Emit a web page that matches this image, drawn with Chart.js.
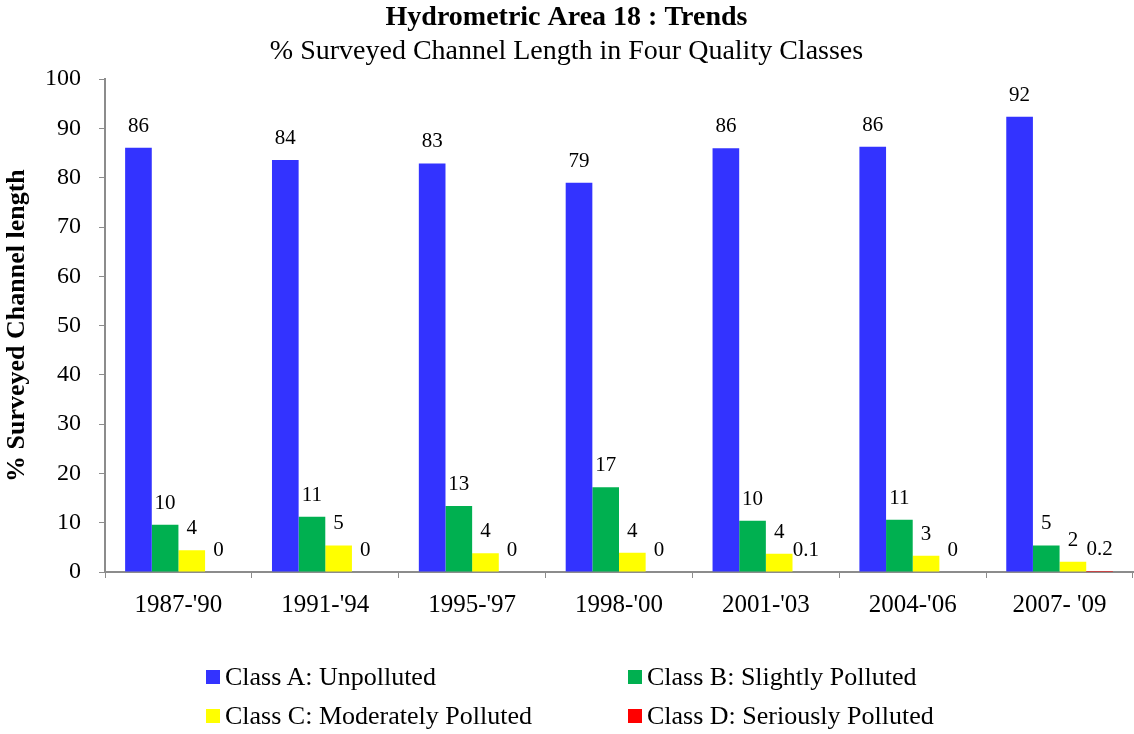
<!DOCTYPE html>
<html>
<head>
<meta charset="utf-8">
<script src="https://cdn.jsdelivr.net/npm/chart.js@4.4.0/dist/chart.umd.min.js"></script>
<style>
  html, body { margin: 0; padding: 0; background: #fff; }
  #wrap { position: relative; width: 1134px; height: 734px; }
  #legend { position: absolute; left: 0; top: 0; width: 1134px; height: 734px; pointer-events: none;
            font-family: "Liberation Serif", "Times New Roman", serif; font-size: 26px; color: #000; }
  .li { position: absolute; white-space: nowrap; line-height: 30px; height: 30px; }
  .sw { position: absolute; left: 0; top: 8px; width: 14px; height: 14px; }
  .tx { position: absolute; left: 19px; top: 0; }
</style>
</head>
<body>
<div id="wrap">
  <canvas id="c" width="1134" height="734"></canvas>
  <div id="legend"></div>
</div>
<script>
const categories = ["1987-'90", "1991-'94", "1995-'97", "1998-'00", "2001-'03", "2004-'06", "2007- '09"];
const classA = [86.1, 83.6, 82.9, 79.0, 86.0, 86.3, 92.4];
const classB = [9.6, 11.2, 13.4, 17.2, 10.4, 10.6, 5.4];
const classC = [4.4, 5.4, 3.8, 3.9, 3.7, 3.3, 2.1];
const classD = [0, 0, 0, 0, 0.1, 0, 0.2];
const seriesNames = ["Class A: Unpolluted", "Class B: Slightly Polluted", "Class C: Moderately Polluted", "Class D: Seriously Polluted"];
const seriesColors = ["#3333FF", "#00B050", "#FFFF00", "#FF0000"];
const yTicks = [0, 10, 20, 30, 40, 50, 60, 70, 80, 90, 100];

const FONT = "'Liberation Serif', 'Times New Roman', serif";
const AXIS = "#8c8c8c";

function fmt(v) { return (v > 0 && v < 1) ? v.toFixed(1) : String(Math.round(v)); }

const labelPlugin = {
  id: 'barLabels',
  afterDatasetsDraw(chart) {
    const ctx = chart.ctx;
    ctx.save();
    ctx.font = "21px " + FONT;
    ctx.fillStyle = "#000";
    ctx.textAlign = "center";
    ctx.textBaseline = "bottom";
    chart.data.datasets.forEach((ds, i) => {
      const meta = chart.getDatasetMeta(i);
      meta.data.forEach((bar, j) => {
        ctx.fillText(fmt(ds.data[j]), bar.x, bar.y - 11);
      });
    });
    ctx.restore();
  }
};

const datasets = [classA, classB, classC, classD].map((d, i) => ({
  label: seriesNames[i],
  data: d,
  backgroundColor: seriesColors[i],
  borderWidth: 0,
  categoryPercentage: 0.726,
  barPercentage: 1.0
}));

new Chart(document.getElementById('c'), {
  type: 'bar',
  data: { labels: categories, datasets },
  plugins: [labelPlugin],
  options: {
    responsive: false,
    animation: false,
    devicePixelRatio: 1,
    layout: { padding: { left: 0, right: 1, top: 0, bottom: 0 } },
    plugins: {
      legend: { display: false },
      tooltip: { enabled: false },
      title: {
        display: true,
        text: "Hydrometric Area 18 : Trends",
        color: "#000",
        font: { family: FONT, size: 28, weight: 'bold', lineHeight: 1.2 },
        padding: { top: 1, bottom: 0 }
      },
      subtitle: {
        display: true,
        text: "% Surveyed Channel Length in Four Quality Classes",
        color: "#000",
        font: { family: FONT, size: 28, lineHeight: 1.2 },
        padding: { top: 0, bottom: 11 }
      }
    },
    scales: {
      x: {
        grid: { display: true, drawOnChartArea: false, drawTicks: true, tickLength: 6, color: AXIS, offset: true },
        border: { display: true, color: AXIS, width: 2 },
        ticks: { color: "#000", font: { family: FONT, size: 25 }, padding: 12, maxRotation: 0, autoSkip: false },
        afterFit(scale) { scale.height = 162; }
      },
      y: {
        min: 0, max: 100,
        afterBuildTicks(scale) { scale.ticks = yTicks.map(v => ({ value: v })); },
        grid: { display: true, drawOnChartArea: false, drawTicks: true, tickLength: 6, color: AXIS },
        border: { display: true, color: AXIS, width: 2 },
        ticks: { color: "#000", font: { family: FONT, size: 24 }, padding: 18 },
        title: {
          display: true,
          text: "% Surveyed Channel length",
          color: "#000",
          font: { family: FONT, size: 26, weight: 'bold' },
          padding: { top: 2, bottom: 0 }
        },
        afterFit(scale) { scale.width = 105; }
      }
    }
  }
});

const legend = document.getElementById('legend');
const pos = [[206, 662], [628, 662], [206, 701], [628, 701]];
seriesNames.forEach((n, i) => {
  const el = document.createElement('div');
  el.className = 'li';
  el.style.left = pos[i][0] + 'px';
  el.style.top = pos[i][1] + 'px';
  const sw = document.createElement('span');
  sw.className = 'sw';
  sw.style.background = seriesColors[i];
  const tx = document.createElement('span');
  tx.className = 'tx';
  tx.textContent = n;
  el.appendChild(sw);
  el.appendChild(tx);
  legend.appendChild(el);
});
</script>
</body>
</html>
